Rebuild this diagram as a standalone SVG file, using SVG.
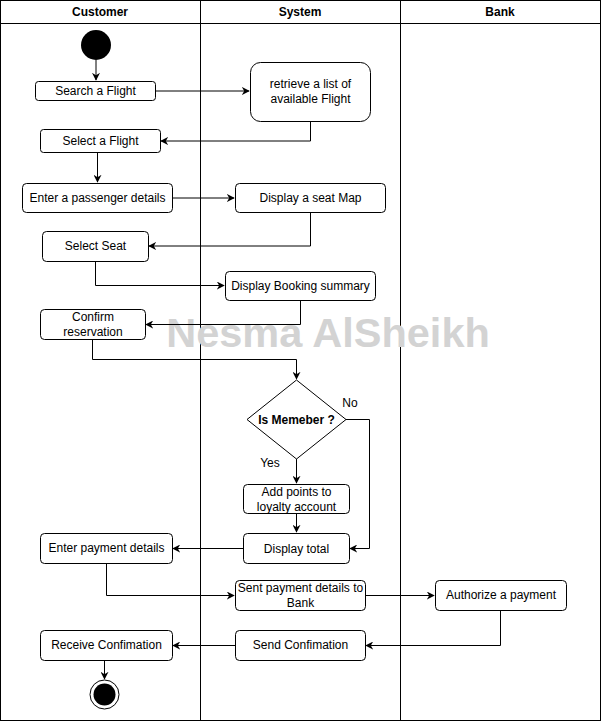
<svg xmlns="http://www.w3.org/2000/svg" width="601" height="721" viewBox="0 0 601 721">
<style>
.n{fill:#fff;stroke:#000;stroke-width:1}
.t{font-family:"Liberation Sans",Arial,sans-serif;font-size:12px;fill:#000;text-anchor:middle;dominant-baseline:central}
.h{font-family:"Liberation Sans",Arial,sans-serif;font-size:12px;font-weight:bold;fill:#000;text-anchor:middle;dominant-baseline:central}
.e{fill:none;stroke:#000;stroke-width:1}
.lane{fill:none;stroke:#000;stroke-width:1}
</style>
<defs>
<marker id="a" viewBox="0 0 10 10" refX="9" refY="5" markerWidth="8" markerHeight="8" markerUnits="userSpaceOnUse" orient="auto">
<path d="M0,0 L10,5 L0,10 L3,5 Z" fill="#000"/>
</marker>
</defs>
<rect width="601" height="721" fill="#fff"/>
<g id="lanes">
<rect class="lane" x="0.5" y="0.5" width="600" height="720"/>
<line class="lane" x1="0.5" y1="23.5" x2="600.5" y2="23.5"/>
<line class="lane" x1="200.5" y1="0.5" x2="200.5" y2="720.5"/>
<line class="lane" x1="400.5" y1="0.5" x2="400.5" y2="720.5"/>
<text class="h" x="100" y="12">Customer</text>
<text class="h" x="300" y="12">System</text>
<text class="h" x="500" y="12">Bank</text>
</g>
<text x="328" y="347" font-family="Liberation Sans,Arial,sans-serif" font-size="41.5" font-weight="bold" fill="#d3d3d3" text-anchor="middle">Nesma AlSheikh</text>
<g id="connectors">
<path class="e" d="M96,60 V80" marker-end="url(#a)"/>
<path class="e" d="M155,91 H249" marker-end="url(#a)"/>
<path class="e" d="M310.5,121 V141 H161" marker-end="url(#a)"/>
<path class="e" d="M97.5,152 V182" marker-end="url(#a)"/>
<path class="e" d="M172,198 H234" marker-end="url(#a)"/>
<path class="e" d="M310.5,212 V246 H149" marker-end="url(#a)"/>
<path class="e" d="M95.5,261 V285.5 H224" marker-end="url(#a)"/>
<path class="e" d="M300.5,300 V324.5 H146" marker-end="url(#a)"/>
<path class="e" d="M92.5,339 V359.5 H296.5 V379" marker-end="url(#a)"/>
<path class="e" d="M346,419.5 H369.5 V548.5 H350" marker-end="url(#a)"/>
<path class="e" d="M296.5,458 V483" marker-end="url(#a)"/>
<path class="e" d="M296.5,513 V532" marker-end="url(#a)"/>
<path class="e" d="M243,548.5 H173" marker-end="url(#a)"/>
<path class="e" d="M106.5,563 V595.5 H234" marker-end="url(#a)"/>
<path class="e" d="M365,595.5 H434" marker-end="url(#a)"/>
<path class="e" d="M500.5,610 V645.5 H366" marker-end="url(#a)"/>
<path class="e" d="M235,645.5 H173" marker-end="url(#a)"/>
<path class="e" d="M104.5,660 V679" marker-end="url(#a)"/>
<text class="t" x="350" y="403">No</text>
<text class="t" x="270" y="463">Yes</text>
</g>
<g id="start"><circle cx="96" cy="45" r="15" fill="#000"/></g>
<g id="search"><rect class="n" x="35.5" y="81.5" width="120" height="19" rx="3"/><text class="t" x="95.5" y="91">Search a Flight</text></g>
<g id="retrieve"><rect class="n" x="250.5" y="62.5" width="120" height="59" rx="10"/><text class="t" x="310.5" y="84">retrieve a list of</text><text class="t" x="310.5" y="99">available Flight</text></g>
<g id="select"><rect class="n" x="40.5" y="129.5" width="120" height="23" rx="3"/><text class="t" x="100.5" y="141">Select a Flight</text></g>
<g id="passenger"><rect class="n" x="22.5" y="183.5" width="150" height="29" rx="4"/><text class="t" x="97.5" y="198">Enter a passenger details</text></g>
<g id="seatmap"><rect class="n" x="235.5" y="183.5" width="150" height="29" rx="4"/><text class="t" x="310.5" y="198">Display a seat Map</text></g>
<g id="selectseat"><rect class="n" x="42.5" y="231.5" width="106" height="30" rx="4"/><text class="t" x="95.5" y="246">Select Seat</text></g>
<g id="summary"><rect class="n" x="225.5" y="271.5" width="150" height="29" rx="4"/><text class="t" x="300.5" y="286">Display Booking summary</text></g>
<g id="confirm"><rect class="n" x="40.5" y="309.5" width="105" height="30" rx="4"/><text class="t" x="93" y="317">Confirm</text><text class="t" x="93" y="332">reservation</text></g>
<g id="member"><path class="n" d="M296.5,380 L346,419.5 L296.5,459 L247,419.5 Z"/><text class="h" x="296.5" y="419.5">Is Memeber ?</text></g>
<g id="points"><rect class="n" x="243.5" y="484.5" width="106" height="29" rx="4"/><text class="t" x="296.5" y="491.5">Add points to</text><text class="t" x="296.5" y="506.5">loyalty account</text></g>
<g id="total"><rect class="n" x="243.5" y="533.5" width="106" height="30" rx="4"/><text class="t" x="296.5" y="548.5">Display total</text></g>
<g id="payment"><rect class="n" x="40.5" y="533.5" width="132" height="30" rx="4"/><text class="t" x="106.5" y="548">Enter payment details</text></g>
<g id="sent"><rect class="n" x="235.5" y="580.5" width="130" height="30" rx="4"/><text class="t" x="300.5" y="588">Sent payment details to</text><text class="t" x="300.5" y="603">Bank</text></g>
<g id="authorize"><rect class="n" x="435.5" y="580.5" width="131" height="30" rx="4"/><text class="t" x="501" y="595">Authorize a payment</text></g>
<g id="send"><rect class="n" x="235.5" y="630.5" width="130" height="30" rx="4"/><text class="t" x="300.5" y="645">Send Confimation</text></g>
<g id="receive"><rect class="n" x="40.5" y="630.5" width="132" height="30" rx="4"/><text class="t" x="106.5" y="645">Receive Confimation</text></g>
<g id="end"><circle cx="104.5" cy="694.5" r="14.5" fill="#fff" stroke="#000" stroke-width="1"/><circle cx="104.5" cy="694.5" r="11" fill="#000"/></g>
</svg>
